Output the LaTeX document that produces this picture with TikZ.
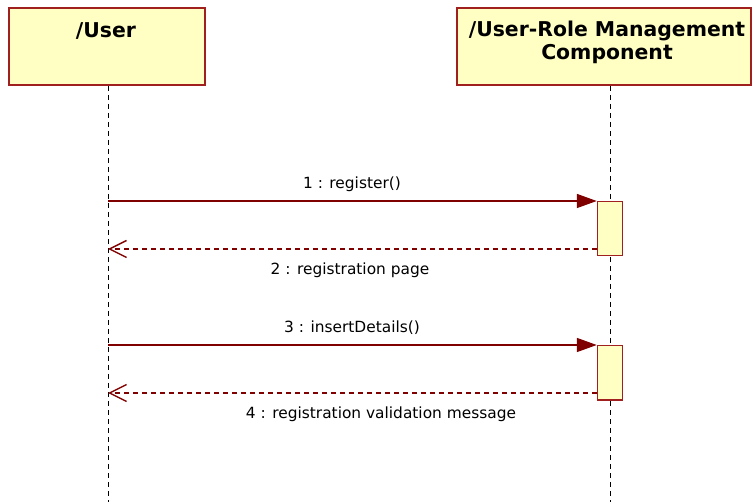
\documentclass[tikz,border=0pt]{standalone}
\usepackage{fontspec}
\setmainfont{DejaVu Sans}
\usetikzlibrary{arrows.meta}
\definecolor{bord}{HTML}{A02020}
\definecolor{fillc}{HTML}{FFFFC4}
\definecolor{msg}{HTML}{800000}
\tikzset{
  obj/.style={draw=bord, fill=fillc, line width=1.8pt, inner sep=0pt},
  life/.style={draw=black, dash pattern=on 5pt off 4pt, line width=1pt},
  act/.style={draw=bord, fill=fillc, line width=1.5pt},
  call/.style={draw=msg, line width=1.6pt, -{Triangle[length=20pt,width=14pt]}},
  ret/.style={draw=msg, line width=1.4pt, dash pattern=on 5pt off 4pt, -{Straight Barb[length=17pt,width=17pt]}},
  lbl/.style={font=\fontsize{15.4}{18}\selectfont, inner sep=0pt},
  ttl/.style={font=\fontsize{20.4}{23}\selectfont\bfseries, inner sep=0pt, align=center}
}
\begin{document}
\begin{tikzpicture}[x=1pt,y=-1pt]
\useasboundingbox (0,0) rectangle (752,502);
% object boxes
\path[obj] (9,8) rectangle (205,85);
\node[ttl, anchor=base] (u) at (106,38) {/User};
\path[obj] (457,8) rectangle (751,85);
\node[ttl, anchor=center] (c) at (607,42) {/User-Role Management\\Component};
% lifelines
\coordinate (ut) at (108,86);
\coordinate (ub) at (108,502);
\coordinate (ct) at (610,86);
\coordinate (cb) at (610,502);
\draw[life] (ut) -- (ub);
\draw[life] (ct) -- (cb);
% activations
\node[act, minimum width=25pt, minimum height=54pt, inner sep=0pt, anchor=north] (a1) at (610,201) {};
\node[act, minimum width=25pt, minimum height=54pt, inner sep=0pt, anchor=north] (a2) at (610,345) {};
% messages
\coordinate (m1s) at (108,201);
\draw[call] (m1s) -- (a1.north west);
\node[lbl] (l1) at (352,184) {1 : register()};
\coordinate (r2e) at (108,249);
\draw[ret] (a1.west |- r2e) -- (r2e);
\node[lbl] (l2) at (350,270) {2 : registration page};
\coordinate (m3s) at (108,345);
\draw[call] (m3s) -- (a2.north west);
\node[lbl] (l3) at (352,328) {3 : insertDetails()};
\coordinate (r4e) at (108,393);
\draw[ret] (a2.west |- r4e) -- (r4e);
\node[lbl] (l4) at (381,414) {4 : registration validation message};
\end{tikzpicture}
\end{document}
